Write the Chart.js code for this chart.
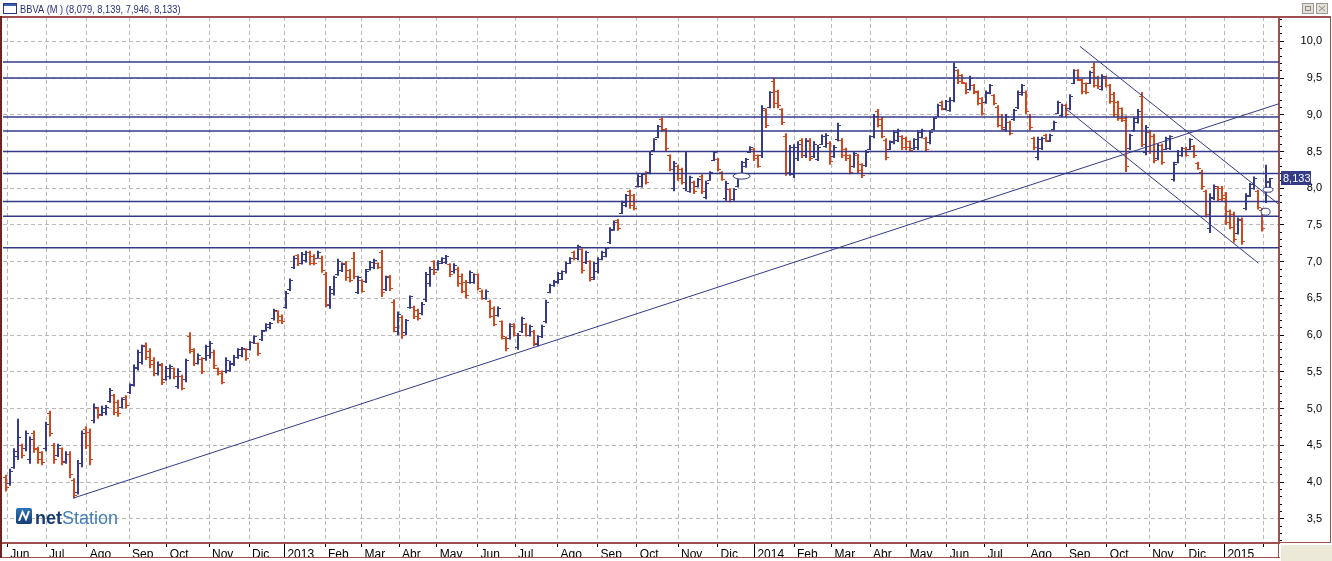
<!DOCTYPE html>
<html>
<head>
<meta charset="utf-8">
<script src="https://cdn.jsdelivr.net/npm/chart.js@4.4.1/dist/chart.umd.min.js"></script>
<style>
  html, body { margin: 0; padding: 0; background: #fff; }
  #wrap { width: 1332px; height: 561px; }
</style>
</head>
<body>
<div id="wrap"><canvas id="bbva" width="1332" height="561"></canvas></div>
<script>
// BBVA daily bars, Jun 2012 - Jan 2015 (one bar ~ two sessions)
const lows = [
  3.87, 3.95, 4.18, 4.30, 4.32, 4.42, 4.25, 4.40, 4.25, 4.23,
  4.42, 4.62, 4.25, 4.34, 4.23, 4.25, 4.05, 3.78, 3.83, 4.20,
  4.45, 4.23, 4.80, 4.86, 4.90, 4.91, 5.08, 4.91, 4.89, 5.00,
  5.00, 5.20, 5.30, 5.52, 5.60, 5.66, 5.55, 5.44, 5.45, 5.32,
  5.38, 5.40, 5.40, 5.27, 5.25, 5.36, 5.75, 5.58, 5.60, 5.47,
  5.65, 5.68, 5.54, 5.45, 5.33, 5.48, 5.50, 5.58, 5.68, 5.70,
  5.65, 5.79, 5.88, 5.72, 5.92, 6.05, 6.08, 6.20, 6.16, 6.15,
  6.36, 6.60, 6.90, 6.94, 6.96, 6.99, 6.95, 6.95, 7.04, 6.85,
  6.38, 6.36, 6.54, 6.81, 6.86, 6.74, 6.72, 6.76, 6.56, 6.58,
  6.71, 6.88, 6.90, 6.90, 6.52, 6.60, 6.60, 6.04, 6.00, 5.95,
  6.00, 6.36, 6.22, 6.20, 6.27, 6.45, 6.66, 6.82, 6.88, 6.97,
  6.97, 6.79, 6.84, 6.66, 6.57, 6.50, 6.70, 6.70, 6.61, 6.48,
  6.48, 6.23, 6.12, 6.25, 5.94, 5.78, 5.94, 5.98, 5.80, 6.03,
  5.98, 5.98, 5.85, 5.85, 5.96, 6.16, 6.57, 6.66, 6.70, 6.75,
  6.84, 6.97, 7.02, 7.02, 6.84, 6.97, 6.73, 6.75, 6.84, 7.02,
  7.06, 7.24, 7.42, 7.42, 7.65, 7.74, 7.72, 7.70, 8.01, 8.01,
  8.05, 8.19, 8.50, 8.68, 8.77, 8.50, 8.23, 7.96, 8.10, 8.05,
  7.96, 7.94, 7.92, 8.01, 7.92, 7.85, 8.10, 8.37, 8.23, 8.10,
  7.83, 7.81, 7.83, 8.01, 8.19, 8.28, 8.48, 8.37, 8.28, 8.41,
  8.82, 9.09, 9.09, 9.09, 8.86, 8.17, 8.17, 8.14, 8.37, 8.41,
  8.41, 8.37, 8.41, 8.37, 8.59, 8.55, 8.32, 8.41, 8.64, 8.41,
  8.37, 8.19, 8.28, 8.20, 8.14, 8.29, 8.52, 8.68, 8.83, 8.68,
  8.38, 8.52, 8.60, 8.63, 8.52, 8.52, 8.50, 8.52, 8.52, 8.68,
  8.50, 8.60, 8.79, 8.97, 9.06, 9.06, 9.04, 9.17, 9.42, 9.42,
  9.28, 9.33, 9.28, 9.13, 8.99, 9.15, 9.28, 9.13, 8.83, 8.79,
  8.77, 8.72, 8.92, 9.08, 9.26, 9.01, 8.79, 8.52, 8.38, 8.52,
  8.63, 8.63, 8.79, 9.01, 8.97, 8.97, 9.06, 9.42, 9.46, 9.28,
  9.28, 9.42, 9.37, 9.35, 9.33, 9.37, 9.15, 8.97, 8.92, 8.90,
  8.22, 8.52, 8.77, 8.88, 8.56, 8.45, 8.47, 8.34, 8.38, 8.32,
  8.52, 8.52, 8.09, 8.34, 8.43, 8.43, 8.52, 8.41, 8.25, 7.98,
  7.60, 7.39, 7.84, 7.82, 7.82, 7.50, 7.44, 7.26, 7.37, 7.23,
  7.70, 7.88, 7.98, 7.71, 7.41, 7.80, 7.946
];
const highs = [
  4.10, 4.18, 4.46, 4.86, 4.52, 4.70, 4.62, 4.70, 4.48, 4.42,
  4.82, 4.97, 4.53, 4.52, 4.47, 4.42, 4.42, 4.05, 4.30, 4.70,
  4.76, 4.73, 5.07, 5.02, 5.04, 5.05, 5.28, 5.20, 5.12, 5.15,
  5.18, 5.34, 5.60, 5.80, 5.87, 5.90, 5.82, 5.70, 5.64, 5.62,
  5.58, 5.60, 5.56, 5.55, 5.46, 5.68, 6.04, 5.82, 5.75, 5.70,
  5.87, 5.92, 5.80, 5.56, 5.52, 5.70, 5.65, 5.73, 5.82, 5.84,
  5.82, 5.92, 6.00, 5.90, 6.07, 6.16, 6.18, 6.36, 6.34, 6.28,
  6.60, 6.77, 7.08, 7.10, 7.13, 7.15, 7.15, 7.10, 7.15, 7.08,
  6.86, 6.67, 6.81, 7.04, 6.99, 7.01, 6.90, 7.13, 6.81, 6.76,
  6.90, 7.01, 7.04, 6.99, 7.16, 6.81, 6.82, 6.49, 6.32, 6.27,
  6.22, 6.54, 6.40, 6.36, 6.45, 6.86, 6.93, 7.02, 7.02, 7.06,
  7.09, 6.98, 6.98, 6.93, 6.84, 6.75, 6.88, 6.84, 6.84, 6.62,
  6.62, 6.48, 6.39, 6.39, 6.20, 5.98, 6.16, 6.16, 6.03, 6.25,
  6.16, 6.14, 6.07, 6.00, 6.14, 6.48, 6.70, 6.75, 6.86, 6.88,
  7.00, 7.06, 7.15, 7.23, 7.18, 7.15, 7.02, 7.00, 7.06, 7.15,
  7.20, 7.47, 7.56, 7.58, 7.83, 7.92, 7.98, 7.92, 8.19, 8.20,
  8.23, 8.50, 8.68, 8.86, 8.96, 8.82, 8.46, 8.37, 8.32, 8.28,
  8.50, 8.17, 8.10, 8.14, 8.19, 8.10, 8.23, 8.50, 8.41, 8.23,
  8.10, 8.00, 8.00, 8.19, 8.37, 8.41, 8.57, 8.55, 8.46, 9.13,
  9.09, 9.32, 9.50, 9.34, 9.09, 8.75, 8.59, 8.60, 8.64, 8.68,
  8.68, 8.68, 8.64, 8.59, 8.73, 8.75, 8.64, 8.59, 8.89, 8.68,
  8.55, 8.46, 8.50, 8.47, 8.34, 8.52, 8.72, 9.01, 9.08, 8.97,
  8.68, 8.65, 8.79, 8.81, 8.72, 8.70, 8.65, 8.68, 8.79, 8.81,
  8.70, 8.79, 8.97, 9.15, 9.19, 9.20, 9.24, 9.71, 9.62, 9.55,
  9.44, 9.53, 9.42, 9.33, 9.24, 9.33, 9.42, 9.28, 9.13, 9.01,
  9.01, 8.92, 9.08, 9.33, 9.42, 9.33, 9.01, 8.70, 8.70, 8.70,
  8.74, 8.74, 8.92, 9.19, 9.15, 9.15, 9.28, 9.62, 9.62, 9.49,
  9.44, 9.60, 9.71, 9.53, 9.55, 9.53, 9.42, 9.31, 9.19, 9.10,
  8.99, 8.74, 8.97, 9.08, 9.31, 8.86, 8.79, 8.74, 8.61, 8.61,
  8.70, 8.72, 8.36, 8.52, 8.56, 8.56, 8.68, 8.59, 8.36, 8.25,
  7.98, 7.93, 8.05, 8.03, 8.03, 7.95, 7.71, 7.68, 7.60, 7.60,
  7.93, 8.07, 8.16, 7.98, 7.73, 8.32, 8.139
];
const opens = [
  4.06, 3.98, 4.20, 4.35, 4.50, 4.45, 4.30, 4.66, 4.45, 4.40,
  4.45, 4.93, 4.50, 4.36, 4.45, 4.28, 4.38, 4.02, 3.86, 4.25,
  4.72, 4.68, 4.84, 5.00, 4.92, 4.94, 5.10, 5.18, 5.08, 5.02,
  5.15, 5.22, 5.33, 5.55, 5.63, 5.86, 5.78, 5.66, 5.48, 5.58,
  5.40, 5.43, 5.54, 5.30, 5.44, 5.40, 5.98, 5.78, 5.62, 5.67,
  5.68, 5.72, 5.76, 5.54, 5.50, 5.50, 5.52, 5.60, 5.70, 5.72,
  5.80, 5.80, 5.90, 5.88, 5.94, 6.06, 6.10, 6.22, 6.32, 6.26,
  6.38, 6.62, 6.92, 7.08, 6.98, 7.01, 7.12, 7.07, 7.05, 7.05,
  6.82, 6.40, 6.56, 6.83, 6.88, 6.98, 6.88, 7.05, 6.58, 6.74,
  6.73, 6.90, 6.92, 6.98, 7.12, 6.62, 6.80, 6.45, 6.05, 6.24,
  6.03, 6.38, 6.38, 6.34, 6.29, 6.48, 6.70, 7.00, 6.90, 6.98,
  6.99, 6.96, 6.86, 6.90, 6.80, 6.72, 6.72, 6.72, 6.82, 6.60,
  6.50, 6.46, 6.36, 6.27, 6.18, 5.96, 5.96, 6.14, 5.83, 6.05,
  6.14, 6.00, 6.05, 5.87, 5.98, 6.18, 6.58, 6.67, 6.72, 6.76,
  6.86, 6.98, 7.13, 7.04, 7.16, 6.99, 7.00, 6.78, 6.86, 7.03,
  7.07, 7.26, 7.43, 7.56, 7.66, 7.76, 7.95, 7.90, 8.03, 8.03,
  8.20, 8.21, 8.51, 8.69, 8.93, 8.79, 8.44, 8.00, 8.30, 8.26,
  8.00, 7.96, 8.08, 8.02, 8.16, 7.88, 8.11, 8.38, 8.39, 8.21,
  7.86, 7.98, 7.85, 8.02, 8.20, 8.29, 8.49, 8.53, 8.44, 8.44,
  9.06, 9.10, 9.45, 9.31, 9.07, 8.70, 8.20, 8.18, 8.40, 8.65,
  8.44, 8.65, 8.43, 8.39, 8.60, 8.57, 8.61, 8.43, 8.66, 8.65,
  8.53, 8.44, 8.30, 8.44, 8.32, 8.31, 8.53, 8.70, 9.05, 8.94,
  8.65, 8.53, 8.62, 8.65, 8.70, 8.68, 8.63, 8.54, 8.55, 8.69,
  8.68, 8.62, 8.80, 8.98, 9.17, 9.07, 9.06, 9.20, 9.60, 9.53,
  9.42, 9.35, 9.40, 9.31, 9.22, 9.17, 9.29, 9.26, 9.10, 8.98,
  8.80, 8.90, 8.93, 9.10, 9.27, 9.30, 8.98, 8.68, 8.42, 8.54,
  8.72, 8.64, 8.80, 9.02, 8.99, 9.13, 9.08, 9.43, 9.60, 9.47,
  9.42, 9.43, 9.65, 9.51, 9.35, 9.50, 9.40, 9.28, 9.17, 9.08,
  8.95, 8.54, 8.78, 8.89, 9.25, 8.48, 8.76, 8.70, 8.40, 8.58,
  8.53, 8.54, 8.12, 8.35, 8.44, 8.54, 8.53, 8.57, 8.34, 8.22,
  7.95, 7.45, 7.86, 8.00, 8.00, 7.90, 7.68, 7.64, 7.39, 7.56,
  7.72, 7.89, 7.99, 7.95, 7.70, 7.82, 8.079
];
const closes = [
  3.92, 4.15, 4.42, 4.60, 4.36, 4.66, 4.58, 4.44, 4.30, 4.26,
  4.78, 4.66, 4.30, 4.50, 4.27, 4.38, 4.10, 3.82, 4.25, 4.66,
  4.50, 4.30, 5.02, 4.90, 5.00, 5.02, 5.25, 4.95, 4.93, 5.12,
  5.04, 5.32, 5.56, 5.76, 5.84, 5.70, 5.60, 5.48, 5.60, 5.36,
  5.55, 5.57, 5.44, 5.50, 5.28, 5.65, 5.80, 5.62, 5.72, 5.50,
  5.84, 5.88, 5.58, 5.48, 5.36, 5.66, 5.62, 5.70, 5.80, 5.82,
  5.68, 5.90, 5.98, 5.75, 6.05, 6.14, 6.16, 6.34, 6.20, 6.18,
  6.56, 6.74, 7.05, 6.97, 7.10, 7.12, 6.98, 6.98, 7.13, 6.88,
  6.42, 6.62, 6.78, 7.00, 6.96, 6.78, 6.75, 6.80, 6.78, 6.60,
  6.87, 6.99, 7.02, 6.92, 6.58, 6.78, 6.64, 6.10, 6.28, 6.00,
  6.20, 6.52, 6.25, 6.23, 6.42, 6.82, 6.90, 6.85, 7.00, 7.04,
  7.07, 6.82, 6.95, 6.70, 6.60, 6.54, 6.85, 6.82, 6.64, 6.50,
  6.60, 6.26, 6.15, 6.36, 5.98, 5.82, 6.12, 6.00, 6.00, 6.22,
  6.00, 6.12, 5.88, 5.98, 6.12, 6.45, 6.68, 6.73, 6.84, 6.86,
  6.98, 7.04, 7.04, 7.20, 6.88, 7.12, 6.76, 6.97, 7.03, 7.13,
  7.18, 7.44, 7.54, 7.45, 7.80, 7.90, 7.76, 7.73, 8.16, 8.18,
  8.08, 8.46, 8.66, 8.84, 8.80, 8.54, 8.26, 8.33, 8.13, 8.08,
  8.20, 8.14, 7.95, 8.12, 7.95, 8.06, 8.21, 8.48, 8.26, 8.12,
  8.06, 7.84, 7.98, 8.17, 8.35, 8.39, 8.55, 8.40, 8.30, 9.08,
  8.86, 9.30, 9.15, 9.12, 8.90, 8.22, 8.55, 8.56, 8.60, 8.45,
  8.64, 8.40, 8.60, 8.56, 8.71, 8.72, 8.36, 8.56, 8.86, 8.44,
  8.40, 8.22, 8.47, 8.24, 8.17, 8.49, 8.70, 8.97, 8.86, 8.71,
  8.42, 8.63, 8.76, 8.79, 8.55, 8.55, 8.52, 8.66, 8.76, 8.79,
  8.53, 8.76, 8.95, 9.13, 9.08, 9.18, 9.20, 9.65, 9.45, 9.44,
  9.30, 9.50, 9.30, 9.16, 9.02, 9.30, 9.40, 9.15, 8.86, 8.82,
  8.98, 8.75, 9.06, 9.30, 9.40, 9.04, 8.82, 8.55, 8.66, 8.68,
  8.65, 8.72, 8.90, 9.17, 9.12, 9.00, 9.25, 9.60, 9.48, 9.31,
  9.30, 9.57, 9.40, 9.38, 9.52, 9.40, 9.18, 9.00, 8.95, 8.92,
  8.30, 8.72, 8.95, 9.05, 8.60, 8.82, 8.50, 8.38, 8.58, 8.35,
  8.68, 8.70, 8.32, 8.50, 8.54, 8.45, 8.66, 8.44, 8.27, 8.02,
  7.64, 7.88, 8.02, 7.85, 7.86, 7.54, 7.47, 7.30, 7.57, 7.28,
  7.90, 8.05, 8.13, 7.74, 7.45, 8.09, 8.133
];

// month starts, in bar units, and their labels
const monthPos = [0.3, 10, 20.2, 30.75, 40.2, 50.75, 60.75, 69.6, 79.75, 88.9, 98.25,
  107.7, 117.9, 127.25, 137.9, 147.9, 157.7, 168, 177.9, 187.1, 197, 206.4,
  216, 225.2, 235.2, 244.6, 255.4, 265, 275.2, 285.8, 294.9, 304.6, 314.3];
const monthLabels = ['Jun', 'Jul', 'Ago', 'Sep', 'Oct', 'Nov', 'Dic', '2013', 'Feb', 'Mar', 'Abr',
  'May', 'Jun', 'Jul', 'Ago', 'Sep', 'Oct', 'Nov', 'Dic', '2014', 'Feb', 'Mar',
  'Abr', 'May', 'Jun', 'Jul', 'Ago', 'Sep', 'Oct', 'Nov', 'Dic', '2015', ''];

// drawn support / resistance levels and trend lines
const levels = [9.72, 9.5, 8.97, 8.78, 8.5, 8.2, 7.82, 7.62, 7.19];
const trendFrom = [[16.75, 3.78], [268.5, 9.93], [264.75, 9.09]];
const trendTo = [[318.2, 9.15], [318.0, 7.79], [313.1, 6.98]];
const markerX = [183.9, 315.5, 314.9];
const markerY = [8.165, 7.98, 7.68];

if ([highs, opens, closes].some(a => a.length !== lows.length)) throw new Error('length mismatch');

const X_MIN = -0.75, X_MAX = 318.25;
const UP = '#363b8c', DOWN = '#d4471c', LINE = '#343a88';
const GRID = '#b9b9b9', FRAME = '#a04f4f';
const FONT = "'Liberation Sans', Arial, sans-serif";
const markerR = [[8.5, 3], [5, 2.5], [4.5, 3.5]];

const last = lows.length - 1;
const isHalf = v => Math.round(v * 10) % 5 === 0;
const comma = (v, d) => v.toFixed(d).replace('.', ',');
const barColor = i => closes[i] >= opens[i] ? UP : DOWN;
const noPad = s => { s.paddingTop = 0; s.paddingBottom = 0; s.paddingLeft = 0; s.paddingRight = 0; };

const ohlcTicks = {
  id: 'ohlcTicks',
  afterDatasetDraw(chart, args) {
    if (args.index !== 0) return;
    const ctx = chart.ctx, y = chart.scales.y;
    ctx.save();
    args.meta.data.forEach((bar, i) => {
      ctx.fillStyle = barColor(i);
      const x = Math.round(bar.x);
      ctx.fillRect(x - 3, Math.floor(y.getPixelForValue(opens[i])), 2, 1);
      ctx.fillRect(x + 1, Math.floor(y.getPixelForValue(closes[i])), 2, 1);
    });
    ctx.restore();
  }
};

const decor = {
  id: 'decor',
  beforeDraw(chart) {
    const ctx = chart.ctx;
    ctx.save();
    ctx.fillStyle = '#fff';
    ctx.fillRect(0, 0, chart.width, chart.height);
    // title bar
    ctx.strokeStyle = '#2b3580';
    ctx.lineWidth = 1;
    ctx.strokeRect(3.5, 3.5, 13, 10);
    ctx.fillStyle = '#3a5fb0';
    ctx.fillRect(4, 4, 12, 2);
    ctx.fillStyle = '#27307a';
    ctx.font = '11px ' + FONT;
    ctx.textBaseline = 'alphabetic';
    const title = 'BBVA (M ) (' + [opens[last], highs[last], lows[last], closes[last]].map(v => comma(v, 3)).join(', ') + ')';
    ctx.save();
    ctx.translate(20, 12.5);
    ctx.scale(0.845, 1);
    ctx.fillText(title, 0, 0);
    ctx.restore();
    [1302, 1316].forEach((bx, k) => {
      ctx.fillStyle = '#e4e0d6';
      ctx.fillRect(bx, 3, 12, 11);
      ctx.strokeStyle = '#9a9a9a';
      ctx.strokeRect(bx + 0.5, 3.5, 11, 10);
      ctx.strokeStyle = '#8a8a8a';
      if (k === 0) {
        ctx.strokeRect(bx + 3.5, 6.5, 5, 4);
      } else {
        ctx.beginPath();
        ctx.moveTo(bx + 3, 6); ctx.lineTo(bx + 9, 11);
        ctx.moveTo(bx + 9, 6); ctx.lineTo(bx + 3, 11);
        ctx.stroke();
      }
    });
    // corner
    ctx.fillStyle = '#ece9d8';
    ctx.fillRect(1281, 545, 51, 16);
    ctx.restore();
  },
  afterDraw(chart) {
    const ctx = chart.ctx, x = chart.scales.x, y = chart.scales.y;
    const area = chart.chartArea;
    ctx.save();
    // frame
    ctx.fillStyle = FRAME;
    ctx.fillRect(0, 16, 1331, 2);
    ctx.fillRect(1330, 16, 1, area.bottom - 16);
    ctx.fillRect(area.right, area.bottom - 1, 1332 - area.right - 1, 1);
    ctx.fillRect(0, 557, area.right + 1, 1);
    ctx.fillRect(area.right - 1, area.bottom, 1, 15);
    ctx.fillStyle = '#6e2323';
    ctx.fillRect(0, 16, 2, 542);
    // year separators in the date band
    ctx.fillStyle = '#000';
    monthLabels.forEach((lab, k) => {
      if (lab.length === 4) ctx.fillRect(Math.round(x.getPixelForValue(monthPos[k])), area.bottom + 1, 1, 13);
    });
    // price axis ticks
    y.ticks.forEach(t => {
      const py = Math.floor(y.getPixelForValue(t.value));
      ctx.fillRect(area.right + 1, py, isHalf(t.value) ? 4 : 2, 1);
    });
    // markers
    ctx.strokeStyle = LINE;
    ctx.fillStyle = '#fff';
    ctx.lineWidth = 1;
    markerX.forEach((mx, k) => {
      ctx.beginPath();
      ctx.ellipse(x.getPixelForValue(mx), y.getPixelForValue(markerY[k]), markerR[k][0], markerR[k][1], 0, 0, Math.PI * 2);
      ctx.fill();
      ctx.stroke();
    });
    // last price tag
    const py = Math.round(y.getPixelForValue(closes[last]));
    ctx.fillStyle = '#353b86';
    ctx.fillRect(area.right + 2, py - 7, 30, 14);
    ctx.fillStyle = '#fff';
    ctx.font = '11px ' + FONT;
    ctx.textBaseline = 'middle';
    ctx.fillText(comma(closes[last], 3), area.right + 4, py + 0.5);
    // logo
    const lx = 16, ly = 508;
    const g = ctx.createLinearGradient(lx, ly, lx, ly + 16);
    g.addColorStop(0, '#2f72b8');
    g.addColorStop(1, '#143d74');
    ctx.fillStyle = g;
    ctx.beginPath();
    ctx.roundRect(lx, ly, 16, 16, 2);
    ctx.fill();
    ctx.strokeStyle = '#fff';
    ctx.lineWidth = 2;
    ctx.beginPath();
    ctx.moveTo(lx + 3, ly + 13); ctx.lineTo(lx + 6.5, ly + 4); ctx.lineTo(lx + 10, ly + 11); ctx.lineTo(lx + 13, ly + 3);
    ctx.stroke();
    ctx.textBaseline = 'alphabetic';
    ctx.font = 'bold 18px ' + FONT;
    ctx.fillStyle = '#173a6f';
    ctx.fillText('net', lx + 19, ly + 16);
    const w = ctx.measureText('net').width;
    ctx.font = '18px ' + FONT;
    ctx.fillStyle = '#3f7cbc';
    ctx.fillText('Station', lx + 19 + w, ly + 16);
    ctx.restore();
  }
};

const lineSet = (pts, width) => ({
  type: 'line',
  data: pts,
  borderColor: LINE,
  borderWidth: width,
  pointRadius: 0,
  fill: false,
  order: 1
});

const datasets = [
  {
    type: 'bar',
    data: lows.map((l, i) => ({ x: i, y: [l, highs[i]] })),
    backgroundColor: ctx => barColor(ctx.dataIndex),
    barThickness: 2,
    inflateAmount: 0,
    borderWidth: 0,
    order: 2
  },
  ...levels.map(v => lineSet([{ x: X_MIN, y: v }, { x: X_MAX, y: v }], 1.5)),
  ...trendFrom.map((s, k) => lineSet([{ x: s[0], y: s[1] }, { x: trendTo[k][0], y: trendTo[k][1] }], 1))
];

new Chart(document.getElementById('bbva'), {
  type: 'bar',
  data: { datasets },
  plugins: [ohlcTicks, decor],
  options: {
    responsive: false,
    animation: false,
    events: [],
    layout: { padding: { left: 3, top: 17, right: 10, bottom: 3 } },
    plugins: { legend: { display: false }, tooltip: { enabled: false } },
    scales: {
      x: {
        type: 'linear',
        min: X_MIN,
        max: X_MAX,
        offset: false,
        bounds: 'data',
        afterFit: s => { s.height = 15; noPad(s); },
        afterBuildTicks: s => { s.ticks = monthPos.map(v => ({ value: v })); },
        ticks: {
          autoSkip: false,
          maxRotation: 0,
          minRotation: 0,
          align: 'start',
          labelOffset: 3,
          padding: 0,
          color: '#000',
          font: { family: FONT, size: 12 },
          callback: (v, i) => monthLabels[i]
        },
        grid: { color: GRID, offset: false, tickLength: 4, tickColor: '#000', tickWidth: 1 },
        border: { color: FRAME, width: 2, dash: [4, 3] }
      },
      y: {
        type: 'linear',
        position: 'right',
        min: 3.17,
        max: 10.331,
        beginAtZero: false,
        afterFit: s => { s.width = 43; noPad(s); },
        ticks: {
          stepSize: 0.1,
          includeBounds: false,
          autoSkip: false,
          crossAlign: 'far',
          padding: 6,
          color: '#000',
          font: { family: FONT, size: 11 },
          callback: v => isHalf(v) ? comma(v, 1) : ''
        },
        grid: { color: c => isHalf(c.tick.value) ? GRID : 'rgba(0,0,0,0)', drawTicks: false },
        border: { color: FRAME, width: 2, dash: [4, 3] }
      }
    }
  }
});
</script>
</body>
</html>
